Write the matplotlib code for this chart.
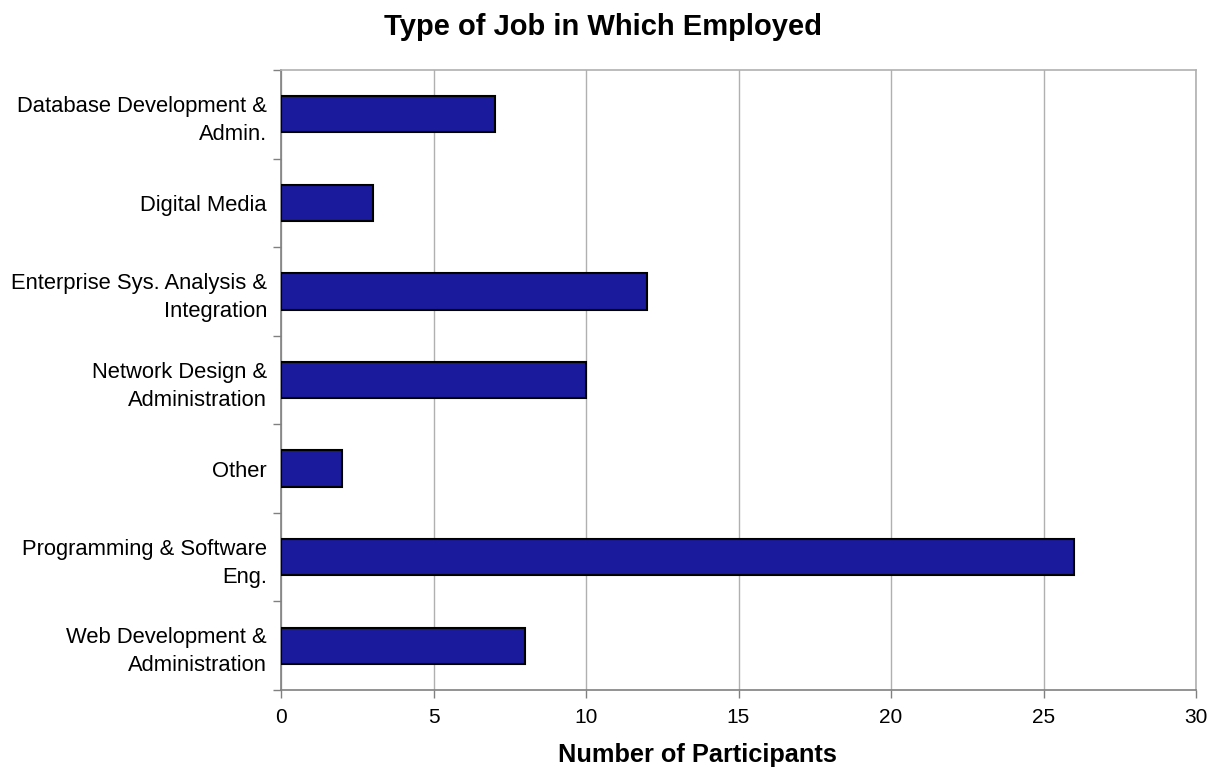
import matplotlib
matplotlib.use("Agg")
import matplotlib.pyplot as plt

categories = ["Database Development &\nAdmin.", "Digital Media",
              "Enterprise Sys. Analysis &\nIntegration", "Network Design &\nAdministration",
              "Other", "Programming & Software\nEng.", "Web Development &\nAdministration"]
values = [7, 3, 12, 10, 2, 26, 8]
xticks = [0, 5, 10, 15, 20, 25, 30]

plt.rcParams['font.family'] = ['Liberation Sans', 'DejaVu Sans']

fig = plt.figure(figsize=(12.16, 7.71), dpi=100)
ax = fig.add_axes([281/1216, 1-690/771, (1196-281)/1216, (690-70)/771])

n = len(categories)
ypos = list(range(n))
ax.barh(ypos, values, height=0.41, color="#1a1a9c", edgecolor="black", linewidth=1.5, zorder=3)
ax.set_ylim(n - 0.5, -0.5)
ax.set_xlim(0, 30)
ax.set_xticks(xticks)
ax.set_xticklabels([str(t) for t in xticks], fontsize=15)
ax.set_yticks(ypos)
ax.set_yticklabels(categories, fontsize=15.8, linespacing=1.45)
ax.tick_params(axis='y', length=0, pad=10)
ax.set_yticks([i - 0.5 for i in range(n + 1)], minor=True)
ax.tick_params(axis='y', which='minor', length=6, color="#808080", width=1)
ax.tick_params(axis='x', length=6, color="#808080", width=1, pad=7)
ax.grid(axis='x', color="#b0b0b0", linewidth=1, zorder=0)
for s in ['top', 'right']:
    ax.spines[s].set_color("#b0b0b0")
ax.spines['left'].set_color("#808080")
ax.spines['bottom'].set_color("#808080")
for s in ax.spines.values():
    s.set_linewidth(1.2)

fig.text(603/1216, 1-27/771, "Type of Job in Which Employed", ha='center', va='center',
         fontsize=21, fontweight='bold')
fig.text(697/1216, 1-755/771, "Number of Participants", ha='center', va='center',
         fontsize=18.3, fontweight='bold')

fig.savefig("out.png", dpi=100)
